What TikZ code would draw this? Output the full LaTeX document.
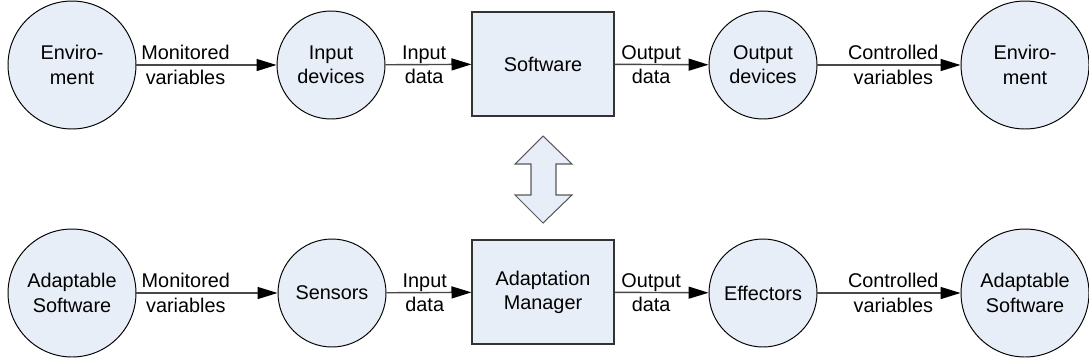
\documentclass[tikz,border=0pt]{standalone}
\usepackage{fontspec}
\setmainfont{Liberation Sans}
\usetikzlibrary{arrows.meta}
\definecolor{fond}{RGB}{232,238,247}
\definecolor{trait}{RGB}{72,72,72}

\begin{document}
\begin{tikzpicture}[x=0.02cm,y=-0.02cm,
    font=\fontsize{11.3}{13.8}\selectfont,
    grand/.style={circle,draw,line width=0.55pt,fill=fond,minimum size=2.56cm,inner sep=0pt,align=center},
    petit/.style={circle,draw,line width=0.55pt,fill=fond,minimum size=2.16cm,inner sep=0pt,align=center},
    boite/.style={draw=black!80,line width=0.6pt,fill=fond,minimum width=2.84cm,minimum height=2.08cm,inner sep=0pt,align=center},
    fleche/.style={draw=trait,line width=0.8pt,-{Triangle[length=0.4cm,width=0.24cm,color=black]}},
    etiq/.style={align=center,inner sep=0pt}]
    \useasboundingbox (0,0) rectangle (1089,363);
    % ligne du haut : le logiciel
    \node[grand] (env1) at (72,65) {Enviro-\\ment};
    \node[petit] (in) at (331,65) {Input\\devices};
    \node[boite] (soft) at (543,64) {Software};
    \node[petit] (out) at (763,65) {Output\\devices};
    \node[grand] (env2) at (1025,65) {Enviro-\\ment};
    \draw[fleche] (env1) -- node[etiq,pos=0.35]{Monitored\\variables} (in);
    \draw[fleche] (in) -- node[etiq,pos=0.45]{Input\\data} (soft);
    \draw[fleche] (soft) -- node[etiq,pos=0.39]{Output\\data} (out);
    \draw[fleche] (out) -- node[etiq,pos=0.53]{Controlled\\variables} (env2);
    % ligne du bas : le gestionnaire d'adaptation
    \node[grand] (adap1) at (72,293) {Adaptable\\Software};
    \node[petit] (sens) at (332,293) {Sensors};
    \node[boite] (mgr) at (543,292) {Adaptation\\Manager};
    \node[petit] (eff) at (763,293) {Effectors};
    \node[grand] (adap2) at (1025,293) {Adaptable\\Software};
    \draw[fleche] (adap1) -- node[etiq,pos=0.35]{Monitored\\variables} (sens);
    \draw[fleche] (sens) -- node[etiq,pos=0.45]{Input\\data} (mgr);
    \draw[fleche] (mgr) -- node[etiq,pos=0.39]{Output\\data} (eff);
    \draw[fleche] (eff) -- node[etiq,pos=0.53]{Controlled\\variables} (adap2);
    % double fleche entre les deux
    \draw[draw=black!65,line width=0.6pt,fill=fond] (543,136) -- (572,164) -- (556,164) -- (556,195) -- (572,195)
        -- (543,223) -- (515,195) -- (531,195) -- (531,164) -- (515,164) -- cycle;
\end{tikzpicture}
\end{document}
